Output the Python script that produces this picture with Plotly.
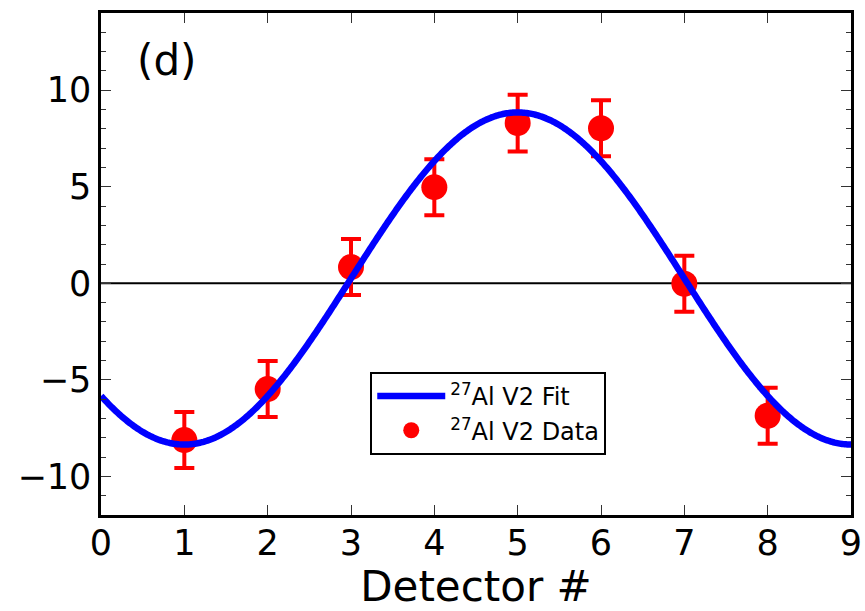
import numpy as np
import plotly.graph_objects as go

# Data
detectors = [1, 2, 3, 4, 5, 6, 7, 8]
v2_data = [-8.12, -5.48, 0.84, 4.98, 8.3, 8.03, -0.02, -6.86]
v2_err = [1.45, 1.45, 1.45, 1.45, 1.47, 1.45, 1.45, 1.45]

# Fit parameters: y = offset + amp * cos(2*pi*(x - x0)/period)
fit_offset = 0.25
fit_amp = 8.6
fit_x0 = 5.0
fit_period = 8.0

x_fit = np.linspace(0, 9, 600)
y_fit = fit_offset + fit_amp * np.cos(2 * np.pi * (x_fit - fit_x0) / fit_period)

x_ticks = list(range(0, 10))
y_ticks = [-10, -5, 0, 5, 10]

fig = go.Figure()

fig.add_trace(go.Scatter(
    x=[0, 9], y=[0, 0], mode="lines",
    line=dict(color="black", width=2), showlegend=False, hoverinfo="skip"))

fig.add_trace(go.Scatter(
    x=detectors, y=v2_data, mode="markers",
    name="<sup>27</sup>Al V2 Data",
    marker=dict(color="red", size=26, line=dict(width=0)),
    error_y=dict(type="data", array=v2_err, color="red", thickness=4, width=10),
    legendrank=2))

fig.add_trace(go.Scatter(
    x=x_fit, y=y_fit, mode="lines",
    name="<sup>27</sup>Al V2 Fit",
    line=dict(color="blue", width=6.5, simplify=False),
    legendrank=1))

fig.update_layout(
    width=865, height=611,
    margin=dict(l=101, r=14, t=13, b=96, autoexpand=False),
    plot_bgcolor="white", paper_bgcolor="white",
    font=dict(family="DejaVu Sans", color="black"),
    legend=dict(x=0.359, y=0.285, xanchor="left", yanchor="top",
                bordercolor="black", borderwidth=2, bgcolor="white",
                itemwidth=68,
                font=dict(size=24, family="DejaVu Sans", color="black")),
    annotations=[dict(text="(d)", xref="paper", yref="paper",
                      x=0.045, y=0.906, xanchor="left", yanchor="middle",
                      showarrow=False, font=dict(size=42, family="DejaVu Sans"))],
)

fig.update_xaxes(
    range=[0, 9], tickvals=x_ticks, ticktext=[str(v) for v in x_ticks],
    showgrid=False, zeroline=False, automargin=False,
    showline=True, linecolor="black", linewidth=2.5, mirror="allticks",
    ticks="inside", ticklen=10, tickwidth=1.2, tickcolor="#333333",
    ticklabelstandoff=-5,
    tickfont=dict(size=35, family="DejaVu Sans", color="black"),
    title=dict(text="Detector #", font=dict(size=42, family="DejaVu Sans"), standoff=22),
)

fig.update_yaxes(
    range=[-12, 14], tickvals=y_ticks, ticktext=["\u221210", "\u22125", "0", "5", "10"],
    showgrid=False, zeroline=False, automargin=False,
    showline=True, linecolor="black", linewidth=2.5, mirror="allticks",
    ticks="inside", ticklen=10, tickwidth=1.2, tickcolor="#333333",
    tickfont=dict(size=35, family="DejaVu Sans", color="black"),
    minor=dict(dtick=1, ticks="inside", ticklen=5, tickwidth=1.0, tickcolor="#333333", showgrid=False),
)

fig.write_html("out.html")
